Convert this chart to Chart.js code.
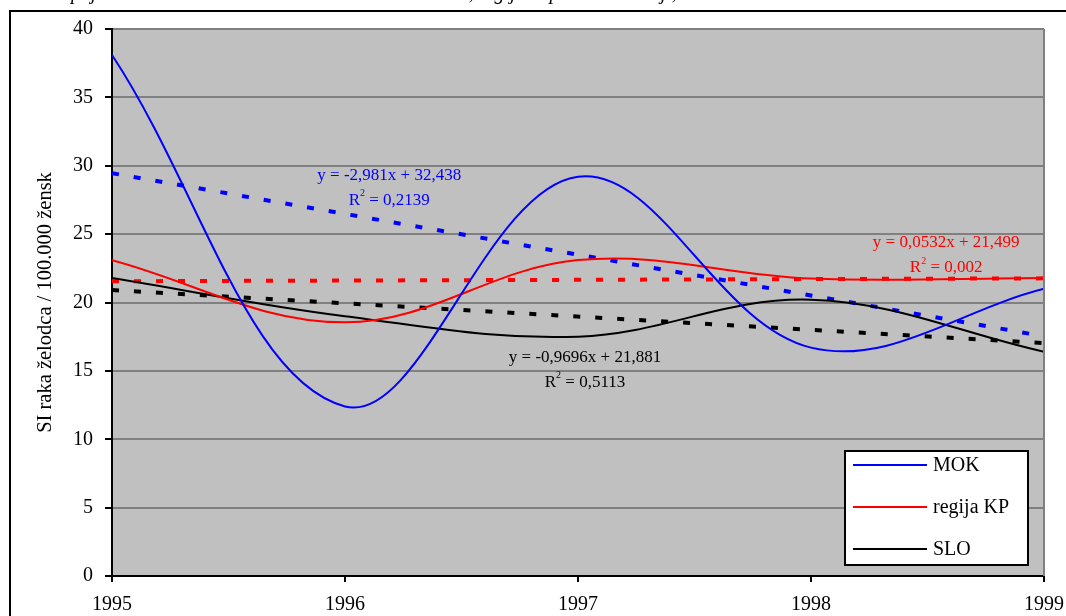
<!DOCTYPE html>
<html>
<head>
<meta charset="utf-8">
<script src="https://cdn.jsdelivr.net/npm/chart.js@4.4.1/dist/chart.umd.min.js"></script>
<style>
  html, body { margin: 0; padding: 0; background: #fff; overflow: hidden; }
  #wrap { width: 1066px; height: 616px; position: relative; }
</style>
</head>
<body>
<div id="wrap"><canvas id="c" width="1066" height="616"></canvas></div>
<script>
// Years on the x axis
const years = [1995, 1996, 1997, 1998, 1999];
// Standardised incidence of stomach cancer per 100.000 women
const mok = [38.1, 12.4, 29.2, 16.7, 21.0];
const regijaKP = [23.1, 18.55, 23.1, 21.75, 21.8];
const slo = [21.8, 19.0, 17.5, 20.2, 16.4];
const seriesNames = ['MOK', 'regija KP', 'SLO'];
const seriesColors = ['#0000FF', '#FF0000', '#000000'];
// Linear trend lines, x runs 1..5 over the years
const trendSlopes = [-2.981, 0.0532, -0.9696];
const trendIntercepts = [32.438, 21.499, 21.881];
const trendEquations = ['y = -2,981x + 32,438', 'y = 0,0532x + 21,499', 'y = -0,9696x + 21,881'];
const trendR2 = ['0,2139', '0,002', '0,5113'];
const yTickValues = [0, 5, 10, 15, 20, 25, 30, 35, 40];
const xTickValues = [1995, 1996, 1997, 1998, 1999];
const yAxisTitle = 'SI raka želodca / 100.000 žensk';
const heading = 'Trend pojavnosti raka želodca na 100.000 žensk v MOK, regiji Koper in Sloveniji, 1995–1999';

const SERIF = '"Liberation Serif", "Times New Roman", serif';

const seriesValues = [mok, regijaKP, slo];
const dataSets = seriesValues.map((vals, i) => ({
  label: seriesNames[i],
  data: vals.map((v, k) => ({ x: years[k], y: v })),
  borderColor: seriesColors[i],
  borderWidth: 2,
  pointRadius: 0,
  tension: 0.37,
  fill: false
}));
const trendSets = trendSlopes.map((a, i) => ({
  label: seriesNames[i] + ' trend',
  data: [1, years.length].map(n => ({ x: years[n - 1], y: a * n + trendIntercepts[i] })),
  borderColor: seriesColors[i],
  borderWidth: 4,
  borderDash: [7, 15],
  borderCapStyle: 'butt',
  pointRadius: 0,
  tension: 0,
  fill: false
}));

// where each trend's equation sits, in data coordinates (year, value)
const eqAnchors = [[1996.19, 29.3], [1998.58, 24.35], [1997.03, 16.0]];

const decor = {
  id: 'decor',
  beforeDraw(chart) {
    const { ctx, chartArea: a } = chart;
    ctx.save();
    ctx.fillStyle = '#fff';
    ctx.fillRect(0, 0, chart.width, chart.height);
    ctx.fillStyle = '#C0C0C0';
    ctx.fillRect(a.left, a.top, a.right - a.left, a.bottom - a.top);
    ctx.restore();
  },
  afterDraw(chart) {
    const { ctx, chartArea: a, scales } = chart;
    ctx.save();
    // right edge of plot area
    ctx.strokeStyle = '#808080';
    ctx.lineWidth = 2;
    ctx.beginPath();
    ctx.moveTo(a.right, a.top);
    ctx.lineTo(a.right, a.bottom);
    ctx.stroke();

    // trend equations
    const EQ = 17, SUP = 10;
    ctx.textBaseline = 'middle';
    eqAnchors.forEach((p, i) => {
      const x = scales.x.getPixelForValue(p[0]);
      const y = scales.y.getPixelForValue(p[1]);
      ctx.fillStyle = seriesColors[i];
      ctx.textAlign = 'center';
      ctx.font = EQ + 'px ' + SERIF;
      ctx.fillText(trendEquations[i], x, y);
      const rest = ' = ' + trendR2[i];
      const wR = ctx.measureText('R').width;
      const wRest = ctx.measureText(rest).width;
      ctx.font = SUP + 'px ' + SERIF;
      const w2 = ctx.measureText('2').width;
      const sx = x - (wR + w2 + wRest) / 2;
      const ry = y + 25;
      ctx.textAlign = 'left';
      ctx.font = EQ + 'px ' + SERIF;
      ctx.fillText('R', sx, ry);
      ctx.font = SUP + 'px ' + SERIF;
      ctx.fillText('2', sx + wR, ry - 7);
      ctx.font = EQ + 'px ' + SERIF;
      ctx.fillText(rest, sx + wR + w2, ry);
    });

    // legend box
    const lx = a.right - 199, ly = a.bottom - 125, lw = 183, lh = 114;
    ctx.fillStyle = '#fff';
    ctx.fillRect(lx, ly, lw, lh);
    ctx.strokeStyle = '#000';
    ctx.lineWidth = 2;
    ctx.strokeRect(lx, ly, lw, lh);
    ctx.textAlign = 'left';
    ctx.textBaseline = 'middle';
    ctx.font = '20px ' + SERIF;
    seriesNames.forEach((name, i) => {
      const ry = ly + 14 + i * 42;
      ctx.strokeStyle = seriesColors[i];
      ctx.lineWidth = 2;
      ctx.beginPath();
      ctx.moveTo(lx + 8, ry);
      ctx.lineTo(lx + 82, ry);
      ctx.stroke();
      ctx.fillStyle = '#000';
      ctx.fillText(name, lx + 88, ry + 1);
    });

    // outer frame
    ctx.strokeStyle = '#000';
    ctx.lineWidth = 2;
    ctx.strokeRect(10, 11, chart.width + 40, chart.height + 40);

    // heading above the frame
    ctx.font = 'italic 20px ' + SERIF;
    ctx.fillStyle = '#000';
    ctx.textAlign = 'left';
    ctx.textBaseline = 'alphabetic';
    ctx.fillText(heading, 20, -1);
    ctx.restore();
  }
};

new Chart(document.getElementById('c'), {
  type: 'line',
  data: { datasets: dataSets.concat(trendSets) },
  plugins: [decor],
  options: {
    responsive: false,
    animation: false,
    events: [],
    layout: { padding: { top: 29, right: 22, bottom: 0, left: 0 } },
    plugins: { legend: { display: false }, tooltip: { enabled: false }, title: { display: false } },
    scales: {
      x: {
        type: 'linear',
        min: xTickValues[0],
        max: xTickValues[xTickValues.length - 1],
        afterBuildTicks(scale) { scale.ticks = xTickValues.map(v => ({ value: v })); },
        afterFit(scale) { scale.height = 40; scale.paddingLeft = 0; scale.paddingRight = 0; },
        ticks: {
          color: '#000',
          font: { family: SERIF, size: 20 },
          padding: 11,
          maxRotation: 0,
          callback: v => String(v)
        },
        grid: { drawOnChartArea: false, color: '#000', tickColor: '#000', tickLength: 6, lineWidth: 2 },
        border: { color: '#000', width: 2 }
      },
      y: {
        min: 0,
        max: 40,
        afterBuildTicks(scale) { scale.ticks = yTickValues.map(v => ({ value: v })); },
        afterFit(scale) { scale.width = 112; scale.paddingTop = 0; scale.paddingBottom = 0; },
        ticks: {
          color: '#000',
          font: { family: SERIF, size: 20 },
          padding: 12,
          callback: v => String(v)
        },
        grid: { color: '#808080', tickColor: '#000', tickLength: 7, lineWidth: 2 },
        border: { color: '#000', width: 2 },
        title: {
          display: true,
          text: yAxisTitle,
          color: '#000',
          font: { family: SERIF, size: 20.5 },
          padding: { top: 33, bottom: 0 }
        }
      }
    }
  }
});
</script>
</body>
</html>
